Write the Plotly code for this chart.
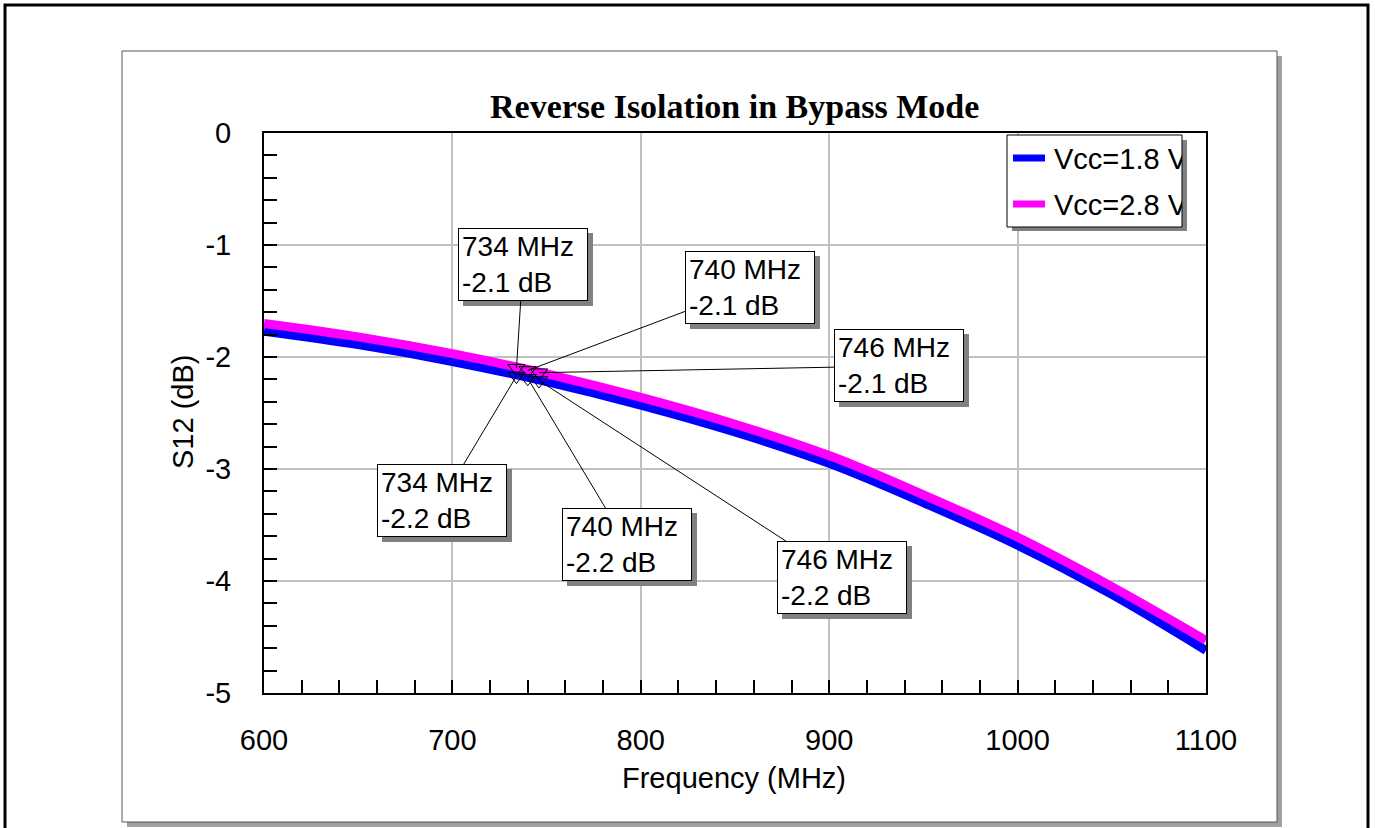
import plotly.graph_objects as go

# ---------------- data ----------------
freq = [600, 650, 700, 750, 800, 850, 900, 950, 1000, 1050, 1100]
s12_vcc18 = [-1.77, -1.89, -2.04, -2.22, -2.43, -2.67, -2.95, -3.30, -3.68, -4.12, -4.62]
s12_vcc28 = [-1.70, -1.82, -1.97, -2.15, -2.36, -2.60, -2.88, -3.23, -3.61, -4.05, -4.53]
series_names = ["Vcc=1.8 V", "Vcc=2.8 V"]
series_colors = ["#0000ff", "#ff00ff"]

marker_freq = [734, 740, 746]
marker_vcc18 = [-2.17, -2.19, -2.21]
marker_vcc28 = [-2.10, -2.12, -2.14]
label_db_vcc18 = [-2.2, -2.2, -2.2]
label_db_vcc28 = [-2.1, -2.1, -2.1]
# label box centres (data coordinates)
box_vcc28 = [(737.5, -1.17), (858, -1.375), (937, -2.08)]
box_vcc18 = [(694.5, -3.28), (792.7, -3.67), (906.8, -3.97)]

x_tickvals = [600, 700, 800, 900, 1000, 1100]
x_ticktext = ["600", "700", "800", "900", "1000", "1100"]
y_tickvals = [0, -1, -2, -3, -4, -5]
y_ticktext = ["0", "-1", "-2", "-3", "-4", "-5"]

title = "Reverse Isolation in Bypass Mode"
x_title = "Frequency (MHz)"
y_title = "S12 (dB)"

# ---------------- layout geometry ----------------
W, H = 1375, 828
L, R, T, B = 264, 1206, 133, 693


def px(x):
    return (x - L) / (R - L)


def py(y):
    return (B - y) / (B - T)


FONT = "Arial, Liberation Sans, sans-serif"
FS = 29
FS_NOTE = 28

fig = go.Figure()
for vals, name, col in zip([s12_vcc18, s12_vcc28], series_names, series_colors):
    fig.add_trace(go.Scatter(x=freq, y=vals, mode="lines", name=name,
                             line=dict(color=col, width=9, shape="spline"),
                             hoverinfo="skip"))
for vals in [marker_vcc28, marker_vcc18]:
    fig.add_trace(go.Scatter(x=marker_freq, y=vals, mode="markers",
                             marker=dict(symbol="triangle-down-open", size=15,
                                         color="black", line=dict(width=1, color="black")),
                             hoverinfo="skip", showlegend=False))

shapes = []
# outer frame
shapes.append(dict(type="rect", xref="paper", yref="paper", x0=px(5), x1=px(1368),
                   y0=py(860), y1=py(5), line=dict(color="black", width=3),
                   fillcolor="rgba(0,0,0,0)", layer="below"))
# inner panel shadow + panel
shapes.append(dict(type="rect", xref="paper", yref="paper", x0=px(127), x1=px(1282),
                   y0=py(827), y1=py(56), line=dict(width=0), fillcolor="#a0a0a0", layer="below"))
shapes.append(dict(type="rect", xref="paper", yref="paper", x0=px(122), x1=px(1277),
                   y0=py(822), y1=py(51), line=dict(color="#555555", width=1),
                   fillcolor="white", layer="below"))
# legend box
shapes.append(dict(type="rect", xref="paper", yref="paper", x0=px(1012), x1=px(1187),
                   y0=py(231), y1=py(140), line=dict(width=0), fillcolor="#808080", layer="above"))
shapes.append(dict(type="rect", xref="paper", yref="paper", x0=px(1007), x1=px(1182),
                   y0=py(227), y1=py(135), line=dict(color="black", width=1),
                   fillcolor="white", layer="above"))
legend_rows = [158, 204]
for yrow, col in zip(legend_rows, series_colors):
    shapes.append(dict(type="line", xref="paper", yref="paper", x0=px(1013), x1=px(1045),
                       y0=py(yrow), y1=py(yrow), line=dict(color=col, width=7), layer="above"))

annotations = []
for yrow, name in zip(legend_rows, series_names):
    annotations.append(dict(xref="paper", yref="paper", x=px(1053), y=py(yrow + 1), text=name,
                            showarrow=False, xanchor="left", yanchor="middle", align="left",
                            width=128, borderpad=0,
                            font=dict(family=FONT, size=FS, color="black")))

# title and axis titles
annotations.append(dict(xref="paper", yref="paper", x=px(734), y=py(107),
                        text="<b>" + title + "</b>", showarrow=False,
                        xanchor="center", yanchor="middle",
                        font=dict(family="Times New Roman, Liberation Serif, serif", size=34, color="black")))
annotations.append(dict(xref="paper", yref="paper", x=px(734), y=py(778), text=x_title,
                        showarrow=False, xanchor="center", yanchor="middle",
                        font=dict(family=FONT, size=FS, color="black")))
annotations.append(dict(xref="paper", yref="paper", x=px(183), y=py(412), text=y_title,
                        showarrow=False, xanchor="center", yanchor="middle", textangle=-90,
                        font=dict(family=FONT, size=FS, color="black")))

NOTE_W, NOTE_H = 122, 65


# marker callouts
def add_callouts(mvals, dbs, boxes):
    for f, v, db, (bx, by) in zip(marker_freq, mvals, dbs, boxes):
        txt = f"{f} MHz<br>{db:.1f} dB"
        # drop shadow (empty box of the same size)
        annotations.append(dict(x=bx, y=by, xref="x", yref="y", text=" ", showarrow=False,
                                xanchor="center", yanchor="middle",
                                xshift=5, yshift=-5, bgcolor="#808080", bordercolor="#808080",
                                borderwidth=1, borderpad=3, width=NOTE_W, height=NOTE_H,
                                font=dict(family=FONT, size=FS_NOTE, color="#808080")))
        annotations.append(dict(x=f, y=v, xref="x", yref="y", ax=bx, ay=by, axref="x", ayref="y",
                                text=txt, showarrow=True, arrowhead=0, arrowwidth=1,
                                arrowcolor="black", standoff=0, align="left", valign="middle",
                                width=NOTE_W, height=NOTE_H,
                                bgcolor="white", bordercolor="black", borderwidth=1, borderpad=3,
                                font=dict(family=FONT, size=FS_NOTE, color="black")))


add_callouts(marker_vcc28, label_db_vcc28, box_vcc28)
add_callouts(marker_vcc18, label_db_vcc18, box_vcc18)

axis_common = dict(showline=True, linecolor="black", linewidth=2, mirror=True,
                   showgrid=True, gridcolor="#c0c0c0", gridwidth=2,
                   ticks="inside", ticklen=13, tickwidth=1.5, tickcolor="black",
                   tickfont=dict(family=FONT, size=FS, color="black"), zeroline=False)

fig.update_xaxes(range=[600, 1100], tickvals=x_tickvals, ticktext=x_ticktext,
                 ticklabelstandoff=20,
                 minor=dict(dtick=20, tick0=600, ticks="inside", ticklen=13, tickwidth=1.5,
                            tickcolor="black", showgrid=False),
                 **axis_common)
fig.update_yaxes(range=[-5, 0], tickvals=y_tickvals, ticktext=y_ticktext,
                 ticklabelstandoff=25,
                 minor=dict(dtick=0.2, tick0=0, ticks="inside", ticklen=13, tickwidth=1.5,
                            tickcolor="black", showgrid=False),
                 **axis_common)

fig.update_layout(width=W, height=H, margin=dict(l=L, r=W - R, t=T, b=H - B),
                  paper_bgcolor="white", plot_bgcolor="white", showlegend=False,
                  shapes=shapes, annotations=annotations,
                  font=dict(family=FONT, size=FS, color="black"))

fig.write_html("out.html")
